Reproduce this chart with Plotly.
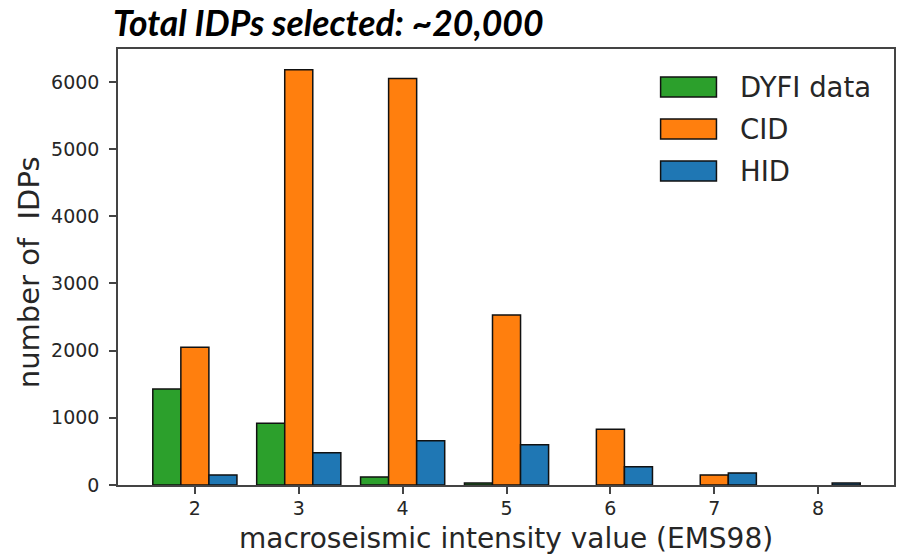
import plotly.graph_objects as go

intensity = [2, 3, 4, 5, 6, 7, 8]
dyfi = [1430, 920, 120, 30, None, None, None]
cid = [2050, 6180, 6050, 2530, 830, 150, None]
hid = [150, 480, 660, 600, 270, 180, 30]

series_names = ["DYFI data", "CID", "HID"]
series_colors = ["#2ca02c", "#ff7f0e", "#1f77b4"]
series_values = [dyfi, cid, hid]

W, H = 897, 555
L, R, T, B = 118, 896, 49, 485

def px(x):
    return (x - L) / (R - L)

def py(y):
    return (B - y) / (B - T)

fig = go.Figure()
for name, col, vals in zip(series_names, series_colors, series_values):
    fig.add_trace(go.Bar(
        x=intensity, y=vals, name=name,
        marker=dict(color=col, line=dict(color="#111111", width=1.5)),
        showlegend=False,
    ))

font_main = "DejaVu Sans"
txt = "#262626"

fig.update_layout(
    width=W, height=H, autosize=False,
    margin=dict(l=L, r=W - R, t=T, b=H - B, pad=0),
    paper_bgcolor="white", plot_bgcolor="white",
    barmode="group", bargap=0.19, bargroupgap=0,
    font=dict(family=font_main, color=txt),
    xaxis=dict(
        range=[1.26, 8.73], tickmode="array", tickvals=intensity,
        ticktext=[str(v) for v in intensity],
        showgrid=False, zeroline=False,
        showline=True, mirror=True, linecolor="#444444", linewidth=1.5,
        ticks="outside", ticklen=7, tickwidth=1.5, tickcolor="#444444",
        tickfont=dict(size=19, family=font_main, color=txt),
        ticklabelstandoff=-2,
    ),
    yaxis=dict(
        range=[0, 6490], tickmode="array",
        tickvals=[0, 1000, 2000, 3000, 4000, 5000, 6000],
        showgrid=False, zeroline=False,
        showline=True, mirror=True, linecolor="#444444", linewidth=1.5,
        ticks="outside", ticklen=7, tickwidth=1.5, tickcolor="#444444",
        tickfont=dict(size=19, family=font_main, color=txt),
        ticklabelstandoff=6,
    ),
)

# chart title and axis titles
fig.add_annotation(
    xref="paper", yref="paper", x=px(111), y=py(22), xanchor="left", yanchor="middle",
    text="<b><i>Total IDPs selected: ~20,000</i></b>", showarrow=False,
    font=dict(family="Lato", size=35.5, color="black"),
)
fig.add_annotation(
    xref="paper", yref="paper", x=px(507), y=py(538), xanchor="center", yanchor="middle",
    text="macroseismic intensity value (EMS98)", showarrow=False,
    font=dict(family=font_main, size=28, color=txt),
)
fig.add_annotation(
    xref="paper", yref="paper", x=px(29), y=py(272), xanchor="center", yanchor="middle",
    text="number of &nbsp;IDPs", textangle=-90, showarrow=False,
    font=dict(family=font_main, size=29, color=txt),
)

# custom legend (matching the large swatches)
row_centers = [87, 129, 171]
for name, col, yc in zip(series_names, series_colors, row_centers):
    fig.add_shape(
        type="rect", xref="paper", yref="paper",
        x0=px(662), x1=px(718), y0=py(yc + 10), y1=py(yc - 10),
        fillcolor=col, line=dict(color="#111111", width=1.5),
    )
    fig.add_annotation(
        xref="paper", yref="paper", x=px(740), y=py(yc), xanchor="left", yanchor="middle",
        text=name, showarrow=False,
        font=dict(family=font_main, size=27.5, color=txt),
    )

post = (
    "document.documentElement.style.margin='0';"
    "document.body.style.margin='0';document.body.style.padding='0';"
    "document.body.style.overflow='hidden';"
    "var gd=document.getElementById('{plot_id}');"
    "Plotly.relayout(gd,{width:897,height:555});"
)

fig.write_html("out.html", config={"responsive": False, "displayModeBar": False},
               post_script=post)
